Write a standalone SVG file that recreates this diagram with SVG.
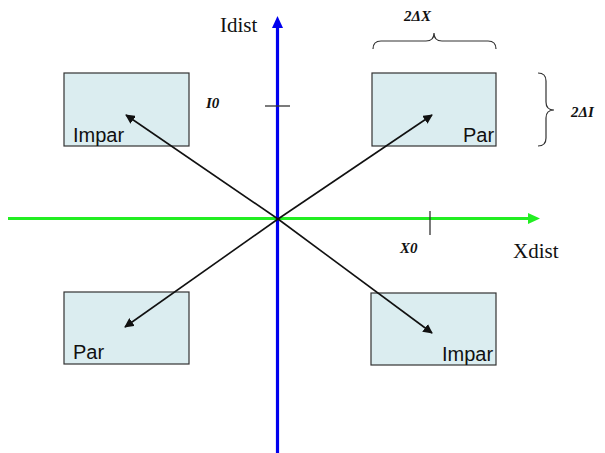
<svg xmlns="http://www.w3.org/2000/svg" width="605" height="453" viewBox="0 0 605 453">
<style>
.box{fill:#dbedf0;stroke:#333;stroke-width:1.2}
.lbl{font-family:"Liberation Sans",Arial,sans-serif;font-size:20px;fill:#111}
.ax{font-family:"Liberation Serif","Times New Roman",serif;font-size:21px;fill:#111}
.sm{font-family:"Liberation Serif","Times New Roman",serif;font-size:15px;font-weight:bold;font-style:italic;fill:#111}
.arr{stroke:#111;stroke-width:1.6;fill:none;marker-end:url(#ah)}
.tick{stroke:#333;stroke-width:1.3}
.brace{fill:none;stroke:#333;stroke-width:1.2}
</style>
<defs>
<marker id="ah" viewBox="0 0 10 10" refX="9" refY="5" markerWidth="6" markerHeight="6" orient="auto" markerUnits="strokeWidth">
<path d="M0,0 L10,5 L0,10 z" fill="#111"/>
</marker>
</defs>
<rect width="605" height="453" fill="#fff"/>
<g id="box-tl"><rect class="box" x="64" y="73" width="125" height="73"/><text class="lbl" x="73" y="142">Impar</text></g>
<g id="box-tr"><rect class="box" x="372" y="73" width="124" height="73"/><text class="lbl" x="463" y="142">Par</text></g>
<g id="box-bl"><rect class="box" x="64" y="292" width="125" height="72"/><text class="lbl" x="73" y="359">Par</text></g>
<g id="box-br"><rect class="box" x="371" y="293" width="125" height="72"/><text class="lbl" x="442" y="361">Impar</text></g>
<g id="axes">
<line x1="8" y1="218.5" x2="530" y2="218.5" stroke="#22ee22" stroke-width="3.2"/>
<path d="M540,218.5 L528,213 L528,224 z" fill="#22ee22"/>
<line x1="277.5" y1="453" x2="277.5" y2="26" stroke="#0000ee" stroke-width="3.2"/>
<path d="M277.5,16 L272,28 L283,28 z" fill="#0000ee"/>
<text class="ax" x="220" y="32">Idist</text>
<text class="ax" x="513" y="258">Xdist</text>
</g>
<g id="connectors">
<line class="arr" x1="278" y1="219" x2="126" y2="115"/>
<line class="arr" x1="278" y1="219" x2="432" y2="115"/>
<line class="arr" x1="278" y1="219" x2="125" y2="327"/>
<line class="arr" x1="278" y1="219" x2="432" y2="333"/>
</g>
<g id="ticks">
<line class="tick" x1="265" y1="106" x2="290" y2="106"/>
<line class="tick" x1="430" y1="211" x2="430" y2="235"/>
<text class="sm" x="206" y="108">I0</text>
<text class="sm" x="400" y="253">X0</text>
</g>
<g id="braces">
<path class="brace" d="M373,49 Q373,41 381,41 L426,41 Q434,41 434,33 Q434,41 442,41 L488,41 Q496,41 496,49"/>
<path class="brace" d="M538,73 Q546,73 546,81 L546,102 Q546,110 554,110 Q546,110 546,118 L546,138 Q546,146 538,146"/>
<text class="sm" x="404" y="21">2ΔX</text>
<text class="sm" x="571" y="117">2ΔI</text>
</g>
</svg>
